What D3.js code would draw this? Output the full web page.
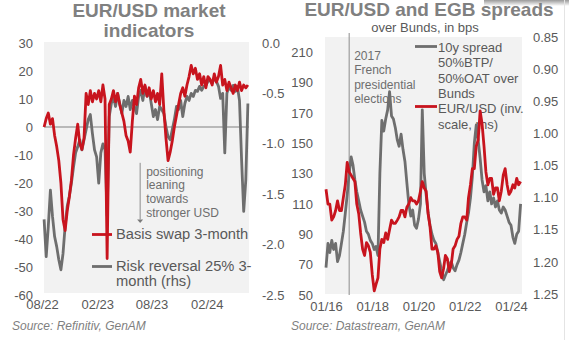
<!DOCTYPE html>
<html><head><meta charset="utf-8">
<script src="https://cdn.jsdelivr.net/npm/d3@7"></script>
<style>
html,body{margin:0;padding:0;background:#fff;}
svg{display:block;font-family:"Liberation Sans",Arial,sans-serif;}
</style></head><body>
<svg id="c" width="569" height="340"></svg>
<script>
// ---------- LEFT CHART DATA (weekly, from 2022-08-08) ----------
const leftStart = new Date(2022, 7, 8);
const basisSwap = [0,3,5,1,3,-3,-7,-12,-20,-33,-37,-30,-25,-19,-10,-4,1,-6,-8,-4,
  12,8,13,9,12,10,13,9,15,10,-47,8,10,13,9,12,8,5,2,-3,
  -5,-9,2,11,8,14,17,12,15,11,14,10,13,9,12,8,19,6,-4,-12,
  -9,-5,0,4,8,12,14,11,15,18,22,19,21,17,19,15,18,14,18,17,
  15,19,16,18,22,15,17,13,16,14,12,15,13,16,13,15,14,15];
const riskReversal = [-1.75,-2.12,-1.82,-1.46,-1.72,-1.92,-2.02,-2.15,-2.25,-2.09,
  -1.82,-1.62,-1.52,-1.39,-1.23,-1.09,-1.03,-0.96,-1.06,-0.96,
  -0.86,-0.76,-0.71,-0.90,-1.06,-1.13,-1.39,-1.09,-1.0,-1.06,
  -1.71,-0.73,-0.6,-0.53,-0.63,-0.5,-0.6,-0.70,-0.57,-0.63,
  -0.53,-0.66,-0.57,-0.63,-0.70,-0.53,-0.47,-0.57,-0.43,-0.53,
  -0.47,-0.6,-0.73,-0.66,-0.76,-0.63,-0.66,-0.7,-0.83,-0.93,
  -0.96,-0.86,-0.76,-0.63,-0.66,-0.57,-0.73,-0.6,-0.53,-0.57,
  -0.5,-0.53,-0.47,-0.48,-0.43,-0.47,-0.43,-0.42,-0.38,-0.37,
  -0.40,-0.35,-0.38,-0.43,-0.55,-0.5,-1.09,-0.5,-0.43,-0.47,
  -0.42,-0.48,-0.43,-0.57,-1.16,-1.67,-1.36,-0.6];
const leftYTicks = [30,20,10,0,-10,-20,-30,-40,-50,-60];
const leftY2Ticks = [0,-0.5,-1,-1.5,-2,-2.5];
const leftXTicks = ["2022-08-01","2023-02-01","2023-08-01","2024-02-01"];

// ---------- RIGHT CHART DATA (monthly, from 2016-01) ----------
const rightStart = new Date(2016, 0, 1);
const spread10y = [68,84,78,86,80,84,72,76,84,92,
  104,116,130,141,136,126,118,112,106,102,
  98,92,90,86,84,80,82,76,130,165,
  158,166,172,184,168,166,160,152,148,156,
  146,138,124,110,102,106,96,94,100,110,
  172,130,116,104,96,90,86,84,78,72,
  66,60,63,66,70,72,68,66,70,73,
  78,84,90,98,104,114,128,150,162,152,
  140,126,118,122,112,118,110,114,108,112,
  106,104,108,106,102,98,96,88,84,90,
  92,110];
const eurusd = [1.087,1.11,1.11,1.135,1.13,1.12,1.105,1.12,1.12,1.10,1.08,1.045,
  1.06,1.065,1.07,1.075,1.11,1.125,1.155,1.18,1.19,1.17,1.175,1.185,
  1.22,1.245,1.235,1.225,1.18,1.165,1.17,1.155,1.165,1.15,1.135,1.14,
  1.14,1.135,1.13,1.12,1.12,1.13,1.115,1.11,1.10,1.105,1.105,1.11,
  1.105,1.09,1.075,1.085,1.09,1.125,1.145,1.18,1.18,1.175,1.185,1.215,
  1.225,1.21,1.19,1.195,1.215,1.205,1.18,1.175,1.165,1.16,1.14,1.13,
  1.13,1.135,1.10,1.08,1.055,1.055,1.02,1.01,0.965,0.985,1.02,1.06,
  1.08,1.07,1.07,1.095,1.085,1.085,1.105,1.09,1.065,1.055,1.08,1.095,
  1.09,1.08,1.085,1.07,1.08,1.075];
const rightYTicks = [50,70,90,110,130,150,170,190,210];
const rightY2Ticks = [0.85,0.90,0.95,1.00,1.05,1.10,1.15,1.20,1.25];
const rightXTicks = ["2016-01-01","2018-01-01","2020-01-01","2022-01-01","2024-01-01"];
const electionDate = "2017-01-01";

// ---------- STYLE ----------
const RED = "#c8141e", GRAY = "#6e6e6e", TXT = "#595959", TITLE = "#808080", BG = "#f2f2f2";
const svg = d3.select("#c");
const parse = d3.timeParse("%Y-%m-%d");
const fmtM = d3.timeFormat("%m/%y");

// top-right shadow
const defs = svg.append("defs");
const g1 = defs.append("linearGradient").attr("id","sh").attr("x1",0).attr("y1",0).attr("x2",0).attr("y2",1);
g1.append("stop").attr("offset","0").attr("stop-color","#9a9a9a");
g1.append("stop").attr("offset","1").attr("stop-color","#ffffff");
svg.append("rect").attr("x",484).attr("y",0).attr("width",85).attr("height",6).attr("fill","url(#sh)");
svg.append("line").attr("x1",564.5).attr("x2",564.5).attr("y1",0).attr("y2",340).attr("stroke","#e4e4e4").attr("stroke-width",1);

function styleAxis(g){
  g.select(".domain").remove();
  g.selectAll("text").attr("fill",TXT).style("font-size","13px").style("font-family","'Liberation Sans',Arial,sans-serif");
}

// ================= LEFT CHART =================
const xL = d3.scaleTime().domain([new Date(2022,7,1), new Date(2024,5,24)]).range([42,250]);
const yL = d3.scaleLinear().domain([-60,30]).range([295,43]);
const yL2 = d3.scaleLinear().domain([-2.5,0]).range([295,43]);

svg.append("rect").attr("x",44).attr("y",42).attr("width",205).attr("height",251).attr("fill",BG);

svg.append("text").attr("x",149).attr("y",17).attr("text-anchor","middle").attr("fill",TITLE)
  .style("font-size","19px").style("font-weight","bold").text("EUR/USD market");
svg.append("text").attr("x",149).attr("y",37).attr("text-anchor","middle").attr("fill",TITLE)
  .style("font-size","19px").style("font-weight","bold").text("indicators");

svg.append("g").attr("transform","translate(33,0)")
  .call(d3.axisLeft(yL).tickValues(leftYTicks).tickSize(0).tickPadding(0).tickFormat(d=>String(d)))
  .call(styleAxis);
svg.append("g").attr("transform","translate(262,0)")
  .call(d3.axisRight(yL2).tickValues(leftY2Ticks).tickSize(0).tickPadding(0).tickFormat(d=>d.toFixed(1)))
  .call(styleAxis);
svg.append("g").attr("transform","translate(0,300)")
  .call(d3.axisBottom(xL).tickValues(leftXTicks.map(parse)).tickSize(0).tickPadding(0).tickFormat(fmtM))
  .call(styleAxis);

// zero line
svg.append("line").attr("x1",44).attr("x2",249).attr("y1",yL(0)).attr("y2",yL(0))
  .attr("stroke","#a6a6a6").attr("stroke-width",1.5);

// annotation
const annX = xL(new Date(2023,5,24));
svg.append("line").attr("x1",annX).attr("x2",annX).attr("y1",yL(-12.8)).attr("y2",yL(-33))
  .attr("stroke","#8c8c8c").attr("stroke-width",1);
svg.append("path").attr("d",`M${annX-3},${yL(-33)} L${annX+3},${yL(-33)} L${annX},${yL(-34.3)} Z`).attr("fill","#7a7a7a");
["positioning","leaning","towards","stronger USD"].forEach((t,i)=>{
  svg.append("text").attr("x",annX+6).attr("y",175.5+i*13.9).attr("fill","#6e6e6e")
    .style("font-size","12px").text(t);
});

// legend
svg.append("line").attr("x1",92).attr("x2",112).attr("y1",234.5).attr("y2",234.5).attr("stroke",RED).attr("stroke-width",2.8);
svg.append("line").attr("x1",92).attr("x2",112).attr("y1",266.5).attr("y2",266.5).attr("stroke",GRAY).attr("stroke-width",2.8);
[["Basis swap 3-month",239],["Risk reversal 25% 3-",271],["month (rhs)",286]].forEach(([t,y])=>{
  svg.append("text").attr("x",116).attr("y",y).attr("fill",TXT).style("font-size","14.7px").text(t);
});

const leftDates = basisSwap.map((_,i)=>d3.timeDay.offset(leftStart, 7*i));
svg.append("path").datum(riskReversal)
  .attr("d", d3.line().x((d,i)=>xL(leftDates[i])).y(d=>yL2(d)))
  .attr("fill","none").attr("stroke",GRAY).attr("stroke-width",2.8).attr("stroke-linejoin","round");
svg.append("path").datum(basisSwap)
  .attr("d", d3.line().x((d,i)=>xL(leftDates[i])).y(d=>yL(d)))
  .attr("fill","none").attr("stroke",RED).attr("stroke-width",2.8).attr("stroke-linejoin","round");

svg.append("text").attr("x",12).attr("y",330).attr("fill","#7f7f7f").style("font-size","12px")
  .style("font-style","italic").text("Source: Refinitiv, GenAM");

// ================= RIGHT CHART =================
const xR = d3.scaleTime().domain([new Date(2016,0,1), new Date(2024,6,1)]).range([326,522.5]);
const yR = d3.scaleLinear().domain([50,220]).range([295,37]);
const yR2 = d3.scaleLinear().domain([0.85,1.25]).range([37,294]);

svg.append("rect").attr("x",325).attr("y",37).attr("width",197).attr("height",257).attr("fill",BG);

svg.append("text").attr("x",429).attr("y",16).attr("text-anchor","middle").attr("fill",TITLE)
  .style("font-size","19px").style("font-weight","bold").text("EUR/USD and EGB spreads");
svg.append("text").attr("x",425).attr("y",32).attr("text-anchor","middle").attr("fill",TXT)
  .style("font-size","13px").text("over Bunds, in bps");

svg.append("g").attr("transform","translate(313,0)")
  .call(d3.axisLeft(yR).tickValues(rightYTicks).tickSize(0).tickPadding(0).tickFormat(d=>String(d)))
  .call(styleAxis);
svg.append("g").attr("transform","translate(533,0)")
  .call(d3.axisRight(yR2).tickValues(rightY2Ticks).tickSize(0).tickPadding(0).tickFormat(d=>d.toFixed(2)))
  .call(styleAxis);
svg.append("g").attr("transform","translate(0,302)")
  .call(d3.axisBottom(xR).tickValues(rightXTicks.map(parse)).tickSize(0).tickPadding(0).tickFormat(fmtM))
  .call(styleAxis);

// election line & text
const eX = xR(parse(electionDate));
svg.append("line").attr("x1",eX).attr("x2",eX).attr("y1",33).attr("y2",295).attr("stroke","#8c8c8c").attr("stroke-width",1);
["2017","French","presidential","elections"].forEach((t,i)=>{
  svg.append("text").attr("x",eX+5).attr("y",60+i*14.3).attr("fill","#6e6e6e").style("font-size","12px").text(t);
});

// legend
svg.append("line").attr("x1",415).attr("x2",437).attr("y1",46.5).attr("y2",46.5).attr("stroke",GRAY).attr("stroke-width",2.8);
svg.append("line").attr("x1",415).attr("x2",437).attr("y1",106.5).attr("y2",106.5).attr("stroke",RED).attr("stroke-width",2.8);
[["10y spread",51.5],["50%BTP/",67],["50%OAT over",82.5],["Bunds",98],["EUR/USD (inv.",113],["scale, rhs)",128.5]].forEach(([t,y])=>{
  svg.append("text").attr("x",438).attr("y",y).attr("fill",TXT).style("font-size","13px").text(t);
});

const rightDates = spread10y.map((_,i)=>d3.timeMonth.offset(rightStart, i));
svg.append("path").datum(spread10y)
  .attr("d", d3.line().x((d,i)=>xR(rightDates[i])).y(d=>yR(d)))
  .attr("fill","none").attr("stroke",GRAY).attr("stroke-width",2.8).attr("stroke-linejoin","round");
svg.append("path").datum(eurusd)
  .attr("d", d3.line().x((d,i)=>xR(rightDates[i])).y(d=>yR2(d)))
  .attr("fill","none").attr("stroke",RED).attr("stroke-width",2.8).attr("stroke-linejoin","round");

svg.append("text").attr("x",291).attr("y",330).attr("fill","#7f7f7f").style("font-size","12px")
  .style("font-style","italic").text("Source: Datastream, GenAM");
</script>
</body></html>
